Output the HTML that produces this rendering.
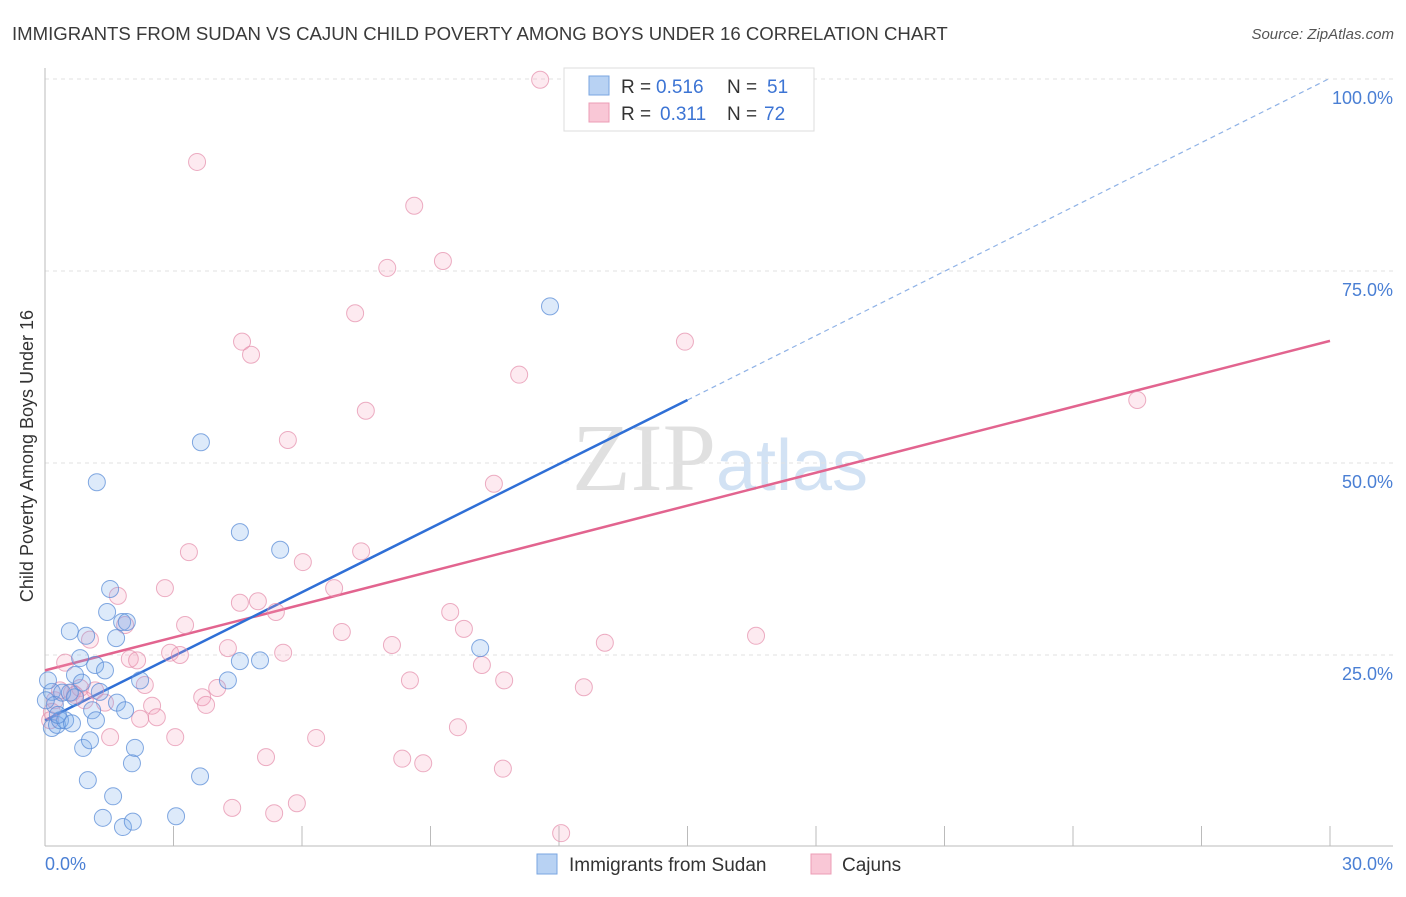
<!DOCTYPE html>
<html><head><meta charset="utf-8"><style>
body{margin:0;background:#fff;font-family:"Liberation Sans",sans-serif;}
svg text{font-family:"Liberation Sans",sans-serif;}
</style></head><body>
<svg width="1406" height="892">
<text x="12" y="40" font-size="18.6" fill="#3a3a3a">IMMIGRANTS FROM SUDAN VS CAJUN CHILD POVERTY AMONG BOYS UNDER 16 CORRELATION CHART</text>
<text x="1394" y="39" font-size="15" fill="#555" font-style="italic" text-anchor="end">Source: ZipAtlas.com</text>
<text x="720" y="490" font-size="96" text-anchor="middle"><tspan fill="#e0e0e0" font-family="Liberation Serif">ZIP</tspan><tspan fill="#d2e2f4" font-family="Liberation Sans" font-size="72">atlas</tspan></text>
<g id="grid"></g>
<g id="axes"></g>
<g id="lines"></g>
<g id="points"></g>
<text x="33" y="456" font-size="18" fill="#333" text-anchor="middle" transform="rotate(-90 33 456)">Child Poverty Among Boys Under 16</text>
<g>
<rect x="564" y="68" width="250" height="63" fill="#fff" stroke="#ddd"/>
<rect x="589" y="76" width="20" height="19" fill="#b8d2f3" stroke="#7aa6e0"/>
<rect x="589" y="103" width="20" height="19" fill="#f9c7d6" stroke="#ec9cb6"/>
<text x="621" y="93" font-size="19" fill="#333">R =</text>
<text x="656" y="93" font-size="19" fill="#3c74d4">0.516</text>
<text x="727" y="93" font-size="19" fill="#333">N =</text>
<text x="767" y="93" font-size="19" fill="#3c74d4">51</text>
<text x="621" y="120" font-size="19" fill="#333">R =</text>
<text x="660" y="120" font-size="19" fill="#3c74d4">0.311</text>
<text x="727" y="120" font-size="19" fill="#333">N =</text>
<text x="764" y="120" font-size="19" fill="#3c74d4">72</text>
</g>
<g>
<rect x="537" y="854" width="20" height="20" fill="#b8d2f3" stroke="#7aa6e0"/>
<text x="569" y="871" font-size="19" fill="#333">Immigrants from Sudan</text>
<rect x="811" y="854" width="20" height="20" fill="#f9c7d6" stroke="#ec9cb6"/>
<text x="842" y="871" font-size="19" fill="#333">Cajuns</text>
</g>
</svg>
<script>
const yTicks=[25,50,75,100];
const yTickLabels=["25.0%","50.0%","75.0%","100.0%"];
const xTicks=[0,3,6,9,12,15,18,21,24,27,30];
const sudanX=[0.16,0.23,0.16,0.28,0.35,0.40,0.47,0.58,0.63,0.70,0.70,0.82,0.86,0.89,0.96,1.00,1.05,1.10,1.17,1.21,1.28,1.35,1.40,1.45,1.52,1.59,1.68,1.66,1.80,1.82,1.87,1.91,2.03,2.10,2.22,2.05,3.06,3.62,3.64,4.27,4.55,4.55,5.02,5.49,10.16,11.79,0.07,0.30,0.02,0.58,1.19];
const sudanY=[20.2,18.5,15.5,15.9,16.5,20.1,16.5,28.1,16.1,19.5,22.4,24.6,21.4,12.9,27.5,8.7,13.9,17.8,23.7,47.5,20.2,3.8,23.0,30.6,33.6,6.6,18.8,27.2,29.3,2.6,17.8,29.3,10.9,12.9,21.7,3.3,4.0,9.2,52.7,21.7,41.0,24.2,24.3,38.7,25.9,70.4,21.7,17.2,19.1,20.1,16.5];
const cajunX=[11.56,3.55,8.62,7.99,9.29,7.24,4.60,4.81,14.94,11.07,7.49,5.67,25.50,10.48,3.36,7.38,6.02,2.80,4.55,4.97,5.39,6.75,9.46,1.70,1.87,3.27,6.93,8.10,9.78,13.07,16.60,4.27,2.92,3.15,5.56,1.98,2.15,0.47,1.05,10.20,8.52,10.72,12.58,2.33,0.63,0.82,3.67,4.02,0.23,1.40,2.50,3.76,2.22,2.61,9.64,1.52,3.04,6.33,5.16,8.34,8.83,10.69,4.37,5.35,5.88,12.05,1.17,0.16,0.35,0.93,0.70,0.12];
const cajunY=[99.9,89.2,83.5,75.4,76.3,69.5,65.8,64.1,65.8,61.5,56.8,53.0,58.2,47.3,38.4,38.5,37.1,33.7,31.8,32.0,30.6,33.7,30.6,32.7,28.9,28.9,28.0,26.3,28.4,26.6,27.5,25.9,25.3,25.0,25.3,24.5,24.3,24.0,27.0,23.7,21.7,21.7,20.8,21.1,20.1,20.7,19.5,20.7,19.1,18.8,18.4,18.5,16.7,16.9,15.6,14.3,14.3,14.2,11.7,11.5,10.9,10.2,5.1,4.4,5.7,1.8,20.4,17.6,20.4,19.1,19.8,16.5];
const sudanLine=[[0,16.5],[15,58.2]];
const sudanLineExt=[[15,58.2],[30,100.1]];
const cajunLine=[[0,23.0],[30,65.9]];

const NS="http://www.w3.org/2000/svg";
const X=v=>45+v*(1285/30);
const Y=v=>847-v*7.68;
function mk(tag,attrs,parent){const e=document.createElementNS(NS,tag);for(const k in attrs)e.setAttribute(k,attrs[k]);document.getElementById(parent).appendChild(e);return e;}
yTicks.forEach((t,i)=>{
  const l=mk('line',{x1:45,x2:1393,y1:Y(t),y2:Y(t),stroke:'#e2e2e2','stroke-dasharray':'4,4'},'grid');
  
  
  const tx=mk('text',{x:1393,y:Y(t)+25,'font-size':18,fill:'#4a7fd4','text-anchor':'end'},'grid');
  tx.textContent=yTickLabels[i];
  
  
});
const ax=mk('line',{x1:45,x2:45,y1:68,y2:846,stroke:'#bbb'},'axes');


const bx=mk('line',{x1:45,x2:1393,y1:846,y2:846,stroke:'#bbb'},'axes');


xTicks.forEach(t=>{
  const l=mk('line',{x1:X(t),x2:X(t),y1:826,y2:846,stroke:'#bbb'},'axes');
  
  
});
const x0=mk('text',{x:45,y:870,'font-size':18,fill:'#4a7fd4'},'axes');x0.textContent='0.0%';


const x1=mk('text',{x:1393,y:870,'font-size':18,fill:'#4a7fd4','text-anchor':'end'},'axes');x1.textContent='30.0%';


function pts(xs,ys,fill,stroke,name){
  xs.forEach((x,i)=>{
    const c=mk('circle',{cx:X(x),cy:Y(ys[i]),r:8.5,fill:fill,stroke:stroke,'stroke-width':1},'points');
    
    
  });
}
pts(cajunX,cajunY,'rgba(244,160,188,0.22)','rgba(228,140,170,0.7)','cajun-point');
pts(sudanX,sudanY,'rgba(120,170,235,0.25)','rgba(90,140,215,0.75)','sudan-point');
function ln(p,stroke,w,dash,name){
  const l=mk('line',{x1:X(p[0][0]),y1:Y(p[0][1]),x2:X(p[1][0]),y2:Y(p[1][1]),stroke:stroke,'stroke-width':w},'lines');
  if(dash)l.setAttribute('stroke-dasharray',dash);
  
  
}
ln(cajunLine,'#e2648f',2.5,null,'cajun-trend-line');
ln(sudanLine,'#2f6fd6',2.5,null,'sudan-trend-line');
ln(sudanLineExt,'#8fb2e6',1.2,'5,4','sudan-trend-extension');
</script>
</body></html>
